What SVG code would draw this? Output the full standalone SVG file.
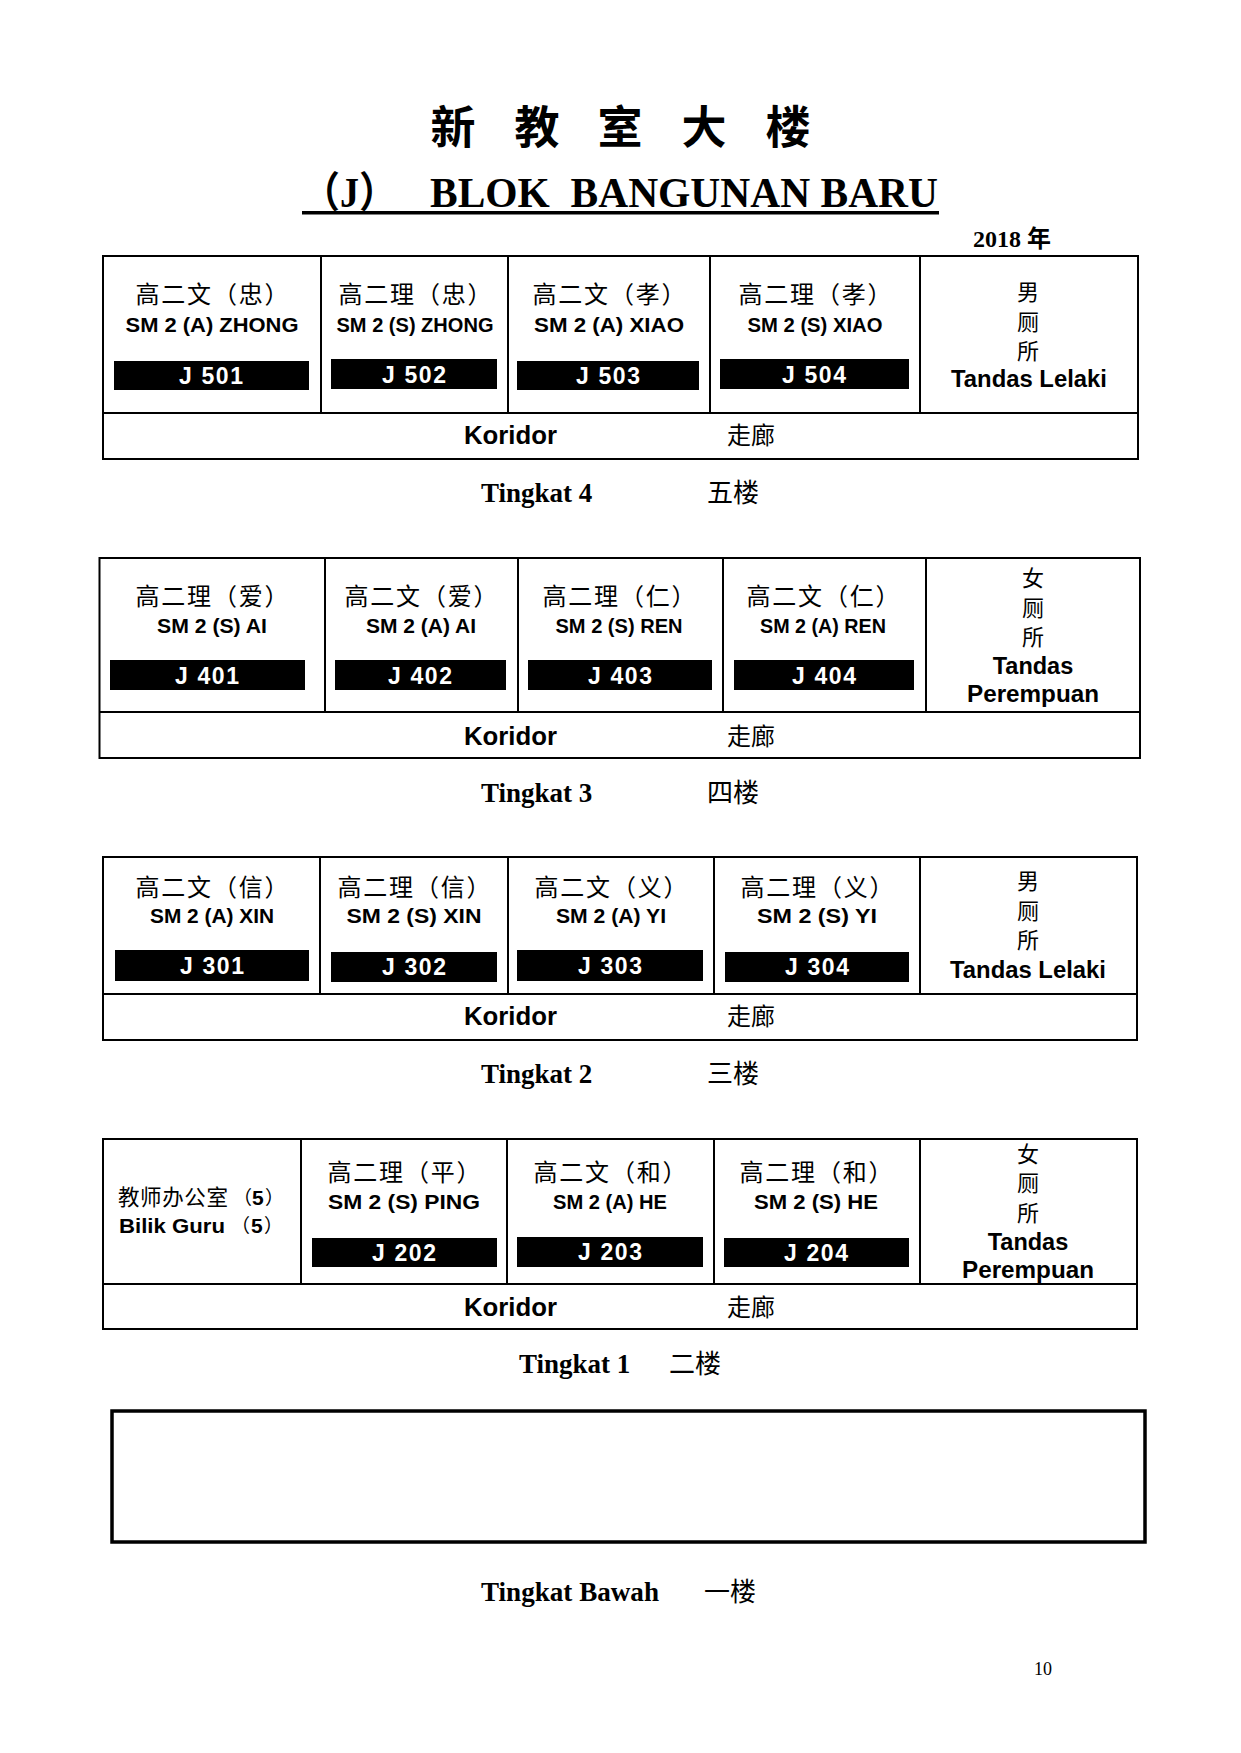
<svg xmlns="http://www.w3.org/2000/svg" width="1241" height="1753" viewBox="0 0 1241 1753">
<style>
.bg{fill:#fff}
.box{fill:none;stroke:#000;stroke-width:2}
.box3{fill:none;stroke:#000;stroke-width:3.5}
.ln{stroke:#000;stroke-width:2}
.bar{fill:#000}
.cn{font-family:"Noto Sans CJK SC",sans-serif;font-size:24px;text-anchor:middle;fill:#000}
.tc{font-family:"Noto Sans CJK SC",sans-serif;font-size:22px;text-anchor:middle;fill:#000}
.sm{font-family:"Liberation Sans",Arial,sans-serif;font-weight:bold;font-size:21px;text-anchor:middle;fill:#000}
.tl{font-family:"Liberation Sans",Arial,sans-serif;font-weight:bold;font-size:23.5px;text-anchor:middle;fill:#000}
.jl{font-family:"Liberation Sans",Arial,sans-serif;font-weight:bold;font-size:23px;text-anchor:middle;fill:#fff}
.kor{font-family:"Liberation Sans",Arial,sans-serif;font-weight:bold;font-size:25px;fill:#000}
.zl{font-family:"Noto Sans CJK SC",sans-serif;font-size:24px;fill:#000}
.ting{font-family:"Liberation Serif","Times New Roman",serif;font-weight:bold;font-size:27px;fill:#000}
.tcn{font-family:"Noto Sans CJK SC",sans-serif;font-size:26px;fill:#000}
.off{font-family:"Noto Sans CJK SC",sans-serif;font-size:21.5px;fill:#000}
.par{font-family:"Noto Sans CJK SC",sans-serif;font-size:19px;fill:#000}
.offb{font-family:"Liberation Sans",Arial,sans-serif;font-weight:bold;font-size:21px;fill:#000}
</style>
<rect class="bg" x="0" y="0" width="1241" height="1753"/>

<g id="header">
  <text font-family="Noto Sans CJK SC,sans-serif" font-weight="bold" font-size="45" x="430.5 514.5 597.5 681.5 765.5" y="144">新教室大楼</text>
  <text font-family="Liberation Serif,Noto Sans CJK SC,serif" font-weight="bold" font-size="42" x="302" y="207" textLength="95" lengthAdjust="spacingAndGlyphs">（J）</text>
  <text font-family="Liberation Serif,serif" font-weight="bold" font-size="42" x="430" y="207" textLength="508" lengthAdjust="spacingAndGlyphs" xml:space="preserve">BLOK  BANGUNAN BARU</text>
  <rect x="302" y="211" width="637" height="3.5" fill="#000"/>
  <text font-family="Liberation Serif,Noto Sans CJK SC,serif" font-weight="bold" font-size="24" x="973" y="247" textLength="78" lengthAdjust="spacingAndGlyphs">2018 年</text>
</g>

<!-- Floor 4 -->
<g id="floor4">
  <rect class="box" x="103" y="256" width="1035" height="203"/>
  <line class="ln" x1="103" y1="413" x2="1138" y2="413"/>
  <line class="ln" x1="321" y1="256" x2="321" y2="413"/>
  <line class="ln" x1="508" y1="256" x2="508" y2="413"/>
  <line class="ln" x1="710" y1="256" x2="710" y2="413"/>
  <line class="ln" x1="920" y1="256" x2="920" y2="413"/>
  <g id="J501">
    <text class="cn" x="212" y="303" textLength="153">高二文（忠）</text>
    <text class="sm" x="212" y="332" textLength="173" lengthAdjust="spacingAndGlyphs">SM 2 (A) ZHONG</text>
    <rect class="bar" x="114" y="361" width="195" height="29"/>
    <text class="jl" x="211" y="384" textLength="64">J 501</text>
  </g>
  <g id="J502">
    <text class="cn" x="415" y="303" textLength="153">高二理（忠）</text>
    <text class="sm" x="415" y="332" textLength="157" lengthAdjust="spacingAndGlyphs">SM 2 (S) ZHONG</text>
    <rect class="bar" x="331" y="359" width="166" height="30"/>
    <text class="jl" x="414" y="383" textLength="64">J 502</text>
  </g>
  <g id="J503">
    <text class="cn" x="609" y="303" textLength="153">高二文（孝）</text>
    <text class="sm" x="609" y="332" textLength="150" lengthAdjust="spacingAndGlyphs">SM 2 (A) XIAO</text>
    <rect class="bar" x="517" y="361" width="182" height="29"/>
    <text class="jl" x="608" y="384" textLength="64">J 503</text>
  </g>
  <g id="J504">
    <text class="cn" x="815" y="303" textLength="153">高二理（孝）</text>
    <text class="sm" x="815" y="332" textLength="135" lengthAdjust="spacingAndGlyphs">SM 2 (S) XIAO</text>
    <rect class="bar" x="720" y="359" width="189" height="30"/>
    <text class="jl" x="814" y="383" textLength="64">J 504</text>
  </g>
  <g id="toilet4">
    <text class="tc" x="1028" y="300">男</text>
    <text class="tc" x="1028" y="330">厕</text>
    <text class="tc" x="1028" y="359">所</text>
    <text class="tl" x="1029" y="387" textLength="156" lengthAdjust="spacingAndGlyphs">Tandas Lelaki</text>
  </g>
  <g id="corridor4">
    <text class="kor" x="464" y="444" textLength="93" lengthAdjust="spacingAndGlyphs">Koridor</text>
    <text class="zl" x="727" y="444">走廊</text>
  </g>
  <text class="ting" x="481" y="502">Tingkat 4</text>
  <text class="tcn" x="707" y="502">五楼</text>
</g>

<!-- Floor 3 -->
<g id="floor3">
  <rect class="box" x="99.5" y="558" width="1040.5" height="200"/>
  <line class="ln" x1="99.5" y1="712" x2="1140" y2="712"/>
  <line class="ln" x1="325" y1="558" x2="325" y2="712"/>
  <line class="ln" x1="518" y1="558" x2="518" y2="712"/>
  <line class="ln" x1="723" y1="558" x2="723" y2="712"/>
  <line class="ln" x1="926" y1="558" x2="926" y2="712"/>
  <g id="J401">
    <text class="cn" x="212" y="605" textLength="153">高二理（爱）</text>
    <text class="sm" x="212" y="633" textLength="110" lengthAdjust="spacingAndGlyphs">SM 2 (S) AI</text>
    <rect class="bar" x="110" y="660" width="195" height="30"/>
    <text class="jl" x="207" y="684" textLength="64">J 401</text>
  </g>
  <g id="J402">
    <text class="cn" x="421" y="605" textLength="153">高二文（爱）</text>
    <text class="sm" x="421" y="633" textLength="110" lengthAdjust="spacingAndGlyphs">SM 2 (A) AI</text>
    <rect class="bar" x="335" y="660" width="171" height="30"/>
    <text class="jl" x="420" y="684" textLength="64">J 402</text>
  </g>
  <g id="J403">
    <text class="cn" x="619" y="605" textLength="153">高二理（仁）</text>
    <text class="sm" x="619" y="633" textLength="127" lengthAdjust="spacingAndGlyphs">SM 2 (S) REN</text>
    <rect class="bar" x="528" y="660" width="184" height="30"/>
    <text class="jl" x="620" y="684" textLength="64">J 403</text>
  </g>
  <g id="J404">
    <text class="cn" x="823" y="605" textLength="153">高二文（仁）</text>
    <text class="sm" x="823" y="633" textLength="126" lengthAdjust="spacingAndGlyphs">SM 2 (A) REN</text>
    <rect class="bar" x="734" y="660" width="180" height="30"/>
    <text class="jl" x="824" y="684" textLength="64">J 404</text>
  </g>
  <g id="toilet3">
    <text class="tc" x="1033" y="586">女</text>
    <text class="tc" x="1033" y="616">厕</text>
    <text class="tc" x="1033" y="645">所</text>
    <text class="tl" x="1033" y="674">Tandas</text>
    <text class="tl" x="1033" y="702" textLength="132" lengthAdjust="spacingAndGlyphs">Perempuan</text>
  </g>
  <g id="corridor3">
    <text class="kor" x="464" y="745" textLength="93" lengthAdjust="spacingAndGlyphs">Koridor</text>
    <text class="zl" x="727" y="745">走廊</text>
  </g>
  <text class="ting" x="481" y="802">Tingkat 3</text>
  <text class="tcn" x="707" y="802">四楼</text>
</g>

<!-- Floor 2 -->
<g id="floor2">
  <rect class="box" x="103" y="857" width="1034" height="183"/>
  <line class="ln" x1="103" y1="994" x2="1137" y2="994"/>
  <line class="ln" x1="320" y1="857" x2="320" y2="994"/>
  <line class="ln" x1="508" y1="857" x2="508" y2="994"/>
  <line class="ln" x1="714" y1="857" x2="714" y2="994"/>
  <line class="ln" x1="920" y1="857" x2="920" y2="994"/>
  <g id="J301">
    <text class="cn" x="212" y="896" textLength="153">高二文（信）</text>
    <text class="sm" x="212" y="923" textLength="124" lengthAdjust="spacingAndGlyphs">SM 2 (A) XIN</text>
    <rect class="bar" x="115" y="950" width="194" height="31"/>
    <text class="jl" x="212" y="974" textLength="64">J 301</text>
  </g>
  <g id="J302">
    <text class="cn" x="414" y="896" textLength="153">高二理（信）</text>
    <text class="sm" x="414" y="923" textLength="135" lengthAdjust="spacingAndGlyphs">SM 2 (S) XIN</text>
    <rect class="bar" x="331" y="952" width="166" height="30"/>
    <text class="jl" x="414" y="975" textLength="64">J 302</text>
  </g>
  <g id="J303">
    <text class="cn" x="611" y="896" textLength="153">高二文（义）</text>
    <text class="sm" x="611" y="923" textLength="110" lengthAdjust="spacingAndGlyphs">SM 2 (A) YI</text>
    <rect class="bar" x="517" y="950" width="186" height="31"/>
    <text class="jl" x="610" y="974" textLength="64">J 303</text>
  </g>
  <g id="J304">
    <text class="cn" x="817" y="896" textLength="153">高二理（义）</text>
    <text class="sm" x="817" y="923" textLength="120" lengthAdjust="spacingAndGlyphs">SM 2 (S) YI</text>
    <rect class="bar" x="725" y="952" width="184" height="30"/>
    <text class="jl" x="817" y="975" textLength="64">J 304</text>
  </g>
  <g id="toilet2">
    <text class="tc" x="1028" y="889">男</text>
    <text class="tc" x="1028" y="919">厕</text>
    <text class="tc" x="1028" y="948">所</text>
    <text class="tl" x="1028" y="978" textLength="156" lengthAdjust="spacingAndGlyphs">Tandas Lelaki</text>
  </g>
  <g id="corridor2">
    <text class="kor" x="464" y="1025" textLength="93" lengthAdjust="spacingAndGlyphs">Koridor</text>
    <text class="zl" x="727" y="1025">走廊</text>
  </g>
  <text class="ting" x="481" y="1083">Tingkat 2</text>
  <text class="tcn" x="707" y="1083">三楼</text>
</g>

<!-- Floor 1 -->
<g id="floor1">
  <rect class="box" x="103" y="1139" width="1034" height="190"/>
  <line class="ln" x1="103" y1="1284" x2="1137" y2="1284"/>
  <line class="ln" x1="301" y1="1139" x2="301" y2="1284"/>
  <line class="ln" x1="507" y1="1139" x2="507" y2="1284"/>
  <line class="ln" x1="714" y1="1139" x2="714" y2="1284"/>
  <line class="ln" x1="920" y1="1139" x2="920" y2="1284"/>
  <g id="office">
    <text class="off" x="118" y="1205" textLength="110">教师办公室</text>
    <text class="par" x="233" y="1205">（</text>
    <text class="offb" x="252" y="1205">5</text>
    <text class="par" x="265" y="1205">）</text>
    <text class="offb" x="119" y="1233" textLength="106" lengthAdjust="spacingAndGlyphs">Bilik Guru</text>
    <text class="par" x="231" y="1233">（</text>
    <text class="offb" x="251" y="1233">5</text>
    <text class="par" x="264" y="1233">）</text>
  </g>
  <g id="J202">
    <text class="cn" x="404" y="1181" textLength="153">高二理（平）</text>
    <text class="sm" x="404" y="1209" textLength="152" lengthAdjust="spacingAndGlyphs">SM 2 (S) PING</text>
    <rect class="bar" x="312" y="1238" width="185" height="29"/>
    <text class="jl" x="404" y="1261" textLength="64">J 202</text>
  </g>
  <g id="J203">
    <text class="cn" x="610" y="1181" textLength="153">高二文（和）</text>
    <text class="sm" x="610" y="1209" textLength="114" lengthAdjust="spacingAndGlyphs">SM 2 (A) HE</text>
    <rect class="bar" x="517" y="1237" width="186" height="30"/>
    <text class="jl" x="610" y="1260" textLength="64">J 203</text>
  </g>
  <g id="J204">
    <text class="cn" x="816" y="1181" textLength="153">高二理（和）</text>
    <text class="sm" x="816" y="1209" textLength="124" lengthAdjust="spacingAndGlyphs">SM 2 (S) HE</text>
    <rect class="bar" x="724" y="1238" width="185" height="29"/>
    <text class="jl" x="816" y="1261" textLength="64">J 204</text>
  </g>
  <g id="toilet1">
    <text class="tc" x="1028" y="1162">女</text>
    <text class="tc" x="1028" y="1191">厕</text>
    <text class="tc" x="1028" y="1221">所</text>
    <text class="tl" x="1028" y="1250">Tandas</text>
    <text class="tl" x="1028" y="1278" textLength="132" lengthAdjust="spacingAndGlyphs">Perempuan</text>
  </g>
  <g id="corridor1">
    <text class="kor" x="464" y="1316" textLength="93" lengthAdjust="spacingAndGlyphs">Koridor</text>
    <text class="zl" x="727" y="1316">走廊</text>
  </g>
  <text class="ting" x="519" y="1373">Tingkat 1</text>
  <text class="tcn" x="669" y="1373">二楼</text>
</g>

<!-- Ground floor -->
<g id="ground">
  <rect class="box3" x="112" y="1411" width="1033" height="131"/>
  <text class="ting" x="481" y="1601" textLength="178" lengthAdjust="spacingAndGlyphs">Tingkat Bawah</text>
  <text class="tcn" x="704" y="1601">一楼</text>
</g>

<text font-family="Liberation Serif,serif" font-size="18" x="1034" y="1675">10</text>
</svg>
